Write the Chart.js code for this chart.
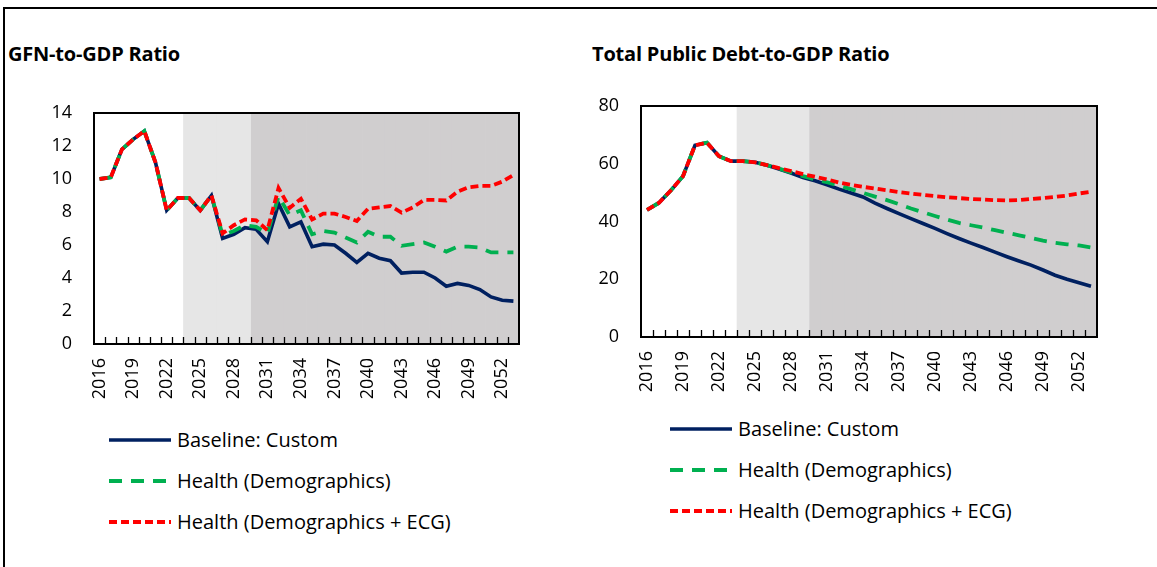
<!DOCTYPE html>
<html>
<head>
<meta charset="utf-8">
<script src="https://cdn.jsdelivr.net/npm/chart.js@4.4.1/dist/chart.umd.min.js"></script>
<style>
  body { margin: 0; width: 1157px; height: 567px; background: #fff; position: relative; overflow: hidden;
         font-family: 'Open Sans', 'Noto Sans', sans-serif; color: #000; }
  .frame { position: absolute; left: 3px; top: 7px; width: 1200px; height: 600px;
           border-top: 2px solid #000; border-left: 2px solid #000; }
  .title { position: absolute; font-weight: bold; font-size: 20px; line-height: 22px; white-space: nowrap; letter-spacing: -0.2px; }
  .box { position: absolute; }
  .legend { position: absolute; font-size: 20px; }
  .legend-item { display: flex; align-items: center; height: 41px; white-space: nowrap; }
  .legend-item svg { margin-right: 6px; flex: none; }
</style>
</head>
<body>
<div class="frame"></div>
<div class="title" style="left:8px; top:43px;">GFN-to-GDP Ratio</div>
<div class="title" style="left:592px; top:43px;">Total Public Debt-to-GDP Ratio</div>

<div class="box" style="left:0; top:100px; width:530px; height:304px;"><canvas id="gfnChart"></canvas></div>
<div class="box" style="left:547px; top:93px; width:561px; height:304px;"><canvas id="debtChart"></canvas></div>

<div class="legend" id="gfnLegend" style="left:109px; top:419px;"></div>
<div class="legend" id="debtLegend" style="left:670px; top:408px;"></div>

<script>
const years = ['2016','2017','2018','2019','2020','2021','2022','2023','2024','2025',
  '2026','2027','2028','2029','2030','2031','2032','2033','2034','2035',
  '2036','2037','2038','2039','2040','2041','2042','2043','2044','2045',
  '2046','2047','2048','2049','2050','2051','2052','2053'];
const yearTicks = ['2016','2019','2022','2025','2028','2031','2034','2037','2040','2043','2046','2049','2052'];

// shaded projection periods
const mediumTerm = ['2024','2025','2026','2027','2028','2029'];
const longTerm = ['2030','2031','2032','2033','2034','2035','2036','2037','2038','2039','2040','2041',
  '2042','2043','2044','2045','2046','2047','2048','2049','2050','2051','2052','2053'];

const seriesNames = ['Baseline: Custom', 'Health (Demographics)', 'Health (Demographics + ECG)'];

// GFN-to-GDP
const gfnBaseline = [10.0, 10.1, 11.8, 12.4, 12.9, 11.0, 8.1, 8.85, 8.85, 8.1,
  9.0, 6.4, 6.65, 7.05, 6.95, 6.2, 8.5, 7.1, 7.4, 5.9,
  6.05, 6.0, 5.5, 4.95, 5.5, 5.2, 5.05, 4.3, 4.35, 4.35,
  4.0, 3.5, 3.67, 3.55, 3.3, 2.85, 2.65, 2.6];
const gfnHealth = [10.0, 10.1, 11.8, 12.4, 12.9, 11.0, 8.1, 8.85, 8.85, 8.1,
  9.0, 6.6, 6.85, 7.2, 7.1, 6.7, 8.95, 7.8, 8.1, 6.65,
  6.85, 6.75, 6.45, 6.15, 6.8, 6.5, 6.5, 5.95, 6.05, 6.15,
  5.9, 5.6, 5.9, 5.9, 5.85, 5.55, 5.55, 5.55];
const gfnHealthEcg = [10.0, 10.1, 11.8, 12.4, 12.9, 11.0, 8.1, 8.85, 8.85, 8.1,
  9.0, 6.7, 7.2, 7.55, 7.5, 6.9, 9.45, 8.25, 8.8, 7.55,
  7.9, 7.9, 7.7, 7.45, 8.2, 8.28, 8.36, 7.96, 8.28, 8.73,
  8.73, 8.7, 9.23, 9.5, 9.58, 9.58, 9.84, 10.24];
const gfnTicks = [0, 2, 4, 6, 8, 10, 12, 14];

// Total public debt-to-GDP
const debtBaseline = [44.0, 46.5, 50.8, 55.7, 66.4, 67.3, 62.6, 60.9, 60.9, 60.5,
  59.5, 58.2, 56.8, 55.2, 54.1, 52.7, 51.2, 49.9, 48.5, 46.4,
  44.5, 42.7, 41.0, 39.3, 37.6, 35.8, 34.1, 32.5, 31.0, 29.4,
  27.8, 26.3, 24.9, 23.2, 21.4, 20.0, 18.8, 17.6];
const debtHealth = [44.0, 46.5, 50.8, 55.7, 66.4, 67.3, 62.6, 60.9, 60.9, 60.5,
  59.5, 58.3, 57.0, 55.7, 54.6, 53.6, 52.4, 51.2, 49.9, 48.6,
  47.4, 46.0, 44.5, 43.2, 41.9, 40.7, 39.5, 38.7, 37.9, 37.0,
  36.1, 35.2, 34.3, 33.4, 32.6, 32.1, 31.7, 31.0];
const debtHealthEcg = [44.0, 46.5, 50.8, 55.7, 66.4, 67.3, 62.6, 60.9, 60.9, 60.5,
  59.5, 58.5, 57.5, 56.4, 55.5, 54.6, 53.5, 52.7, 52.0, 51.4,
  50.8, 50.2, 49.7, 49.2, 48.8, 48.4, 48.1, 47.8, 47.6, 47.4,
  47.3, 47.4, 47.8, 48.1, 48.5, 49.0, 49.7, 50.3];
const debtTicks = [0, 20, 40, 60, 80];

const lineStyles = [
  { color: '#002060', dash: [] },
  { color: '#00B050', dash: [13, 9] },
  { color: '#FF0000', dash: [8, 4] }
];

// inner tick marks between categories and a frame round the plot area
const plotFrame = {
  id: 'plotFrame',
  afterDatasetsDraw(chart) {
    const { ctx, chartArea: a, scales: { x } } = chart;
    const n = chart.data.labels.length;
    ctx.save();
    ctx.strokeStyle = '#000';
    ctx.lineWidth = 1.3;
    ctx.beginPath();
    for (let k = 1; k < n; k++) {
      const px = Math.round((x.getPixelForValue(k - 1) + x.getPixelForValue(k)) / 2) + 0.5;
      ctx.moveTo(px, a.bottom);
      ctx.lineTo(px, a.bottom - 7);
    }
    ctx.stroke();
    ctx.lineWidth = 2;
    ctx.strokeRect(a.left, a.top, a.right - a.left, a.bottom - a.top);
    ctx.restore();
  }
};

function shadeBar(period, top, color) {
  return {
    type: 'bar',
    data: years.map(y => period.includes(y) ? top : null),
    backgroundColor: color,
    borderWidth: 0,
    barPercentage: 1,
    categoryPercentage: 1,
    grouped: false,
    order: 3
  };
}

function makeChart(id, series, ticks) {
  const top = ticks[ticks.length - 1];
  const lines = series.map((vals, i) => ({
    type: 'line',
    label: seriesNames[i],
    data: vals,
    borderColor: lineStyles[i].color,
    borderDash: lineStyles[i].dash,
    borderWidth: i === 0 ? 3.6 : 3.8,
    pointRadius: 0,
    tension: 0,
    order: 2 - i
  }));
  return new Chart(document.getElementById(id), {
    data: {
      labels: years,
      datasets: [shadeBar(mediumTerm, top, '#E6E6E6'), shadeBar(longTerm, top, '#D0CECF'), ...lines]
    },
    options: {
      responsive: true,
      maintainAspectRatio: false,
      animation: false,
      layout: { padding: { top: 13, right: 11, left: 0, bottom: 0 } },
      plugins: { legend: { display: false }, tooltip: { enabled: false } },
      scales: {
        x: {
          offset: true,
          grid: { display: false },
          border: { display: false },
          ticks: {
            autoSkip: false,
            minRotation: 90,
            maxRotation: 90,
            padding: 6,
            color: '#000',
            font: { family: "'Open Sans', sans-serif", size: 18 },
            callback: function(v) {
              const lab = this.getLabelForValue(v);
              return yearTicks.includes(lab) ? lab : '';
            }
          },
          afterFit: s => { s.height = 60; s.paddingLeft = 0; s.paddingRight = 0; }
        },
        y: {
          min: 0,
          max: top,
          grid: { display: false },
          border: { display: false },
          afterBuildTicks: s => { s.ticks = ticks.map(v => ({ value: v })); },
          ticks: {
            padding: 14,
            color: '#000',
            font: { family: "'Open Sans', sans-serif", size: 18 }
          },
          afterFit: s => { s.width = 94; s.paddingTop = 0; s.paddingBottom = 0; }
        }
      }
    },
    plugins: [plotFrame]
  });
}

function buildLegend(id) {
  const el = document.getElementById(id);
  seriesNames.forEach((name, i) => {
    const st = lineStyles[i];
    const item = document.createElement('div');
    item.className = 'legend-item';
    item.innerHTML = `<svg width="62" height="10"><line x1="0" y1="5" x2="62" y2="5" stroke="${st.color}"
      stroke-width="${i === 0 ? 3.5 : 4}" stroke-dasharray="${st.dash.join(' ')}"/></svg><span>${name}</span>`;
    el.appendChild(item);
  });
}

makeChart('gfnChart', [gfnBaseline, gfnHealth, gfnHealthEcg], gfnTicks);
makeChart('debtChart', [debtBaseline, debtHealth, debtHealthEcg], debtTicks);
buildLegend('gfnLegend');
buildLegend('debtLegend');
</script>
</body>
</html>
